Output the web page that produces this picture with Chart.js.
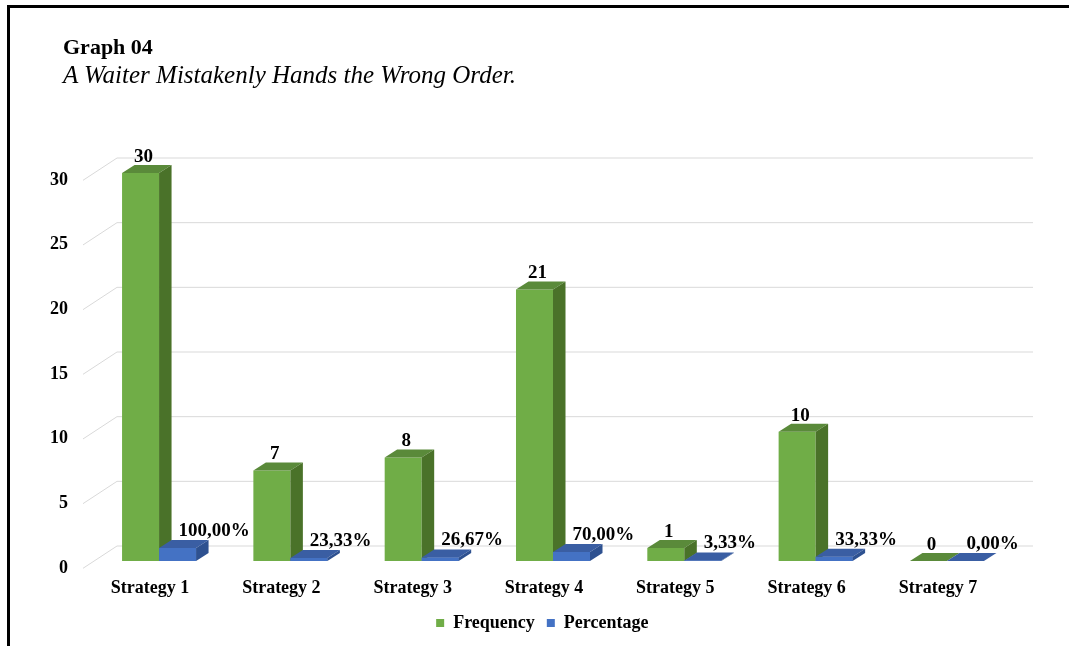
<!DOCTYPE html>
<html><head><meta charset="utf-8">
<script src="https://cdn.jsdelivr.net/npm/chart.js@4/dist/chart.umd.min.js"></script>
<style>
html,body{margin:0;padding:0;background:#fff;}
#wrap{position:relative;width:1069px;height:646px;overflow:hidden;background:#fff;}
#frameTop{position:absolute;left:7px;top:5px;width:1062px;height:3px;background:#000;}
#frameLeft{position:absolute;left:7px;top:5px;width:3px;height:641px;background:#000;}
.t{position:absolute;left:63px;white-space:nowrap;color:#000;font-family:"Liberation Serif","Times New Roman",serif;}
#title{top:36px;line-height:22px;font-weight:bold;font-size:22px;}
#subtitle{top:62px;line-height:25px;font-style:italic;font-size:25px;}
canvas{position:absolute;left:0;top:0;}
</style></head>
<body>
<div id="wrap">
  <canvas id="c" width="1069" height="646"></canvas>
  <div id="frameTop"></div><div id="frameLeft"></div>
  <div class="t" id="title">Graph 04</div>
  <div class="t" id="subtitle">A Waiter Mistakenly Hands the Wrong Order.</div>
</div>
<script>
const categories = ["Strategy 1","Strategy 2","Strategy 3","Strategy 4","Strategy 5","Strategy 6","Strategy 7"];
const frequency = [30, 7, 8, 21, 1, 10, 0];
const percentage = [100.00, 23.33, 26.67, 70.00, 3.33, 33.33, 0.00];
const yTicks = [0, 5, 10, 15, 20, 25, 30];

const FONT = '"Liberation Serif","Times New Roman",serif';
const DX = 12.5, DY = -8;
const faceColors = [
  {top:'#5A8A3A', side:'#4A7229'},
  {top:'#3A5EA3', side:'#2E5190'}
];
const TARGET = {top:173, bottom:561, left:93.4, right:1012.6};
const LEGEND_SHIFT = 36;

function fmtPct(v){ return v.toFixed(2).replace('.', ',') + '%'; }

function drawFaces(ctx, meta, col){
  meta.data.forEach(bar => {
    const p = bar.getProps(['x','y','base','width'], true);
    const l = p.x - p.width/2, r = p.x + p.width/2;
    const top = Math.min(p.y, p.base), bot = Math.max(p.y, p.base);
    ctx.fillStyle = col.top;
    ctx.beginPath();
    ctx.moveTo(l, top); ctx.lineTo(r, top); ctx.lineTo(r + DX, top + DY); ctx.lineTo(l + DX, top + DY);
    ctx.closePath(); ctx.fill();
    ctx.fillStyle = col.side;
    ctx.beginPath();
    ctx.moveTo(r, top); ctx.lineTo(r + DX, top + DY); ctx.lineTo(r + DX, bot + DY); ctx.lineTo(r, bot);
    ctx.closePath(); ctx.fill();
  });
}

const threeD = {
  id:'threeD',
  afterLayout(chart){
    if (chart.legend) { chart.legend.left += LEGEND_SHIFT; chart.legend.right += LEGEND_SHIFT; }
  },
  beforeDatasetsDraw(chart){
    const ctx = chart.ctx, ys = chart.scales.y, a = chart.chartArea;
    ctx.save();
    ctx.strokeStyle = '#D9D9D9'; ctx.lineWidth = 1;
    const x0 = a.left - 10.4, x1 = a.left + 23.6, x2 = a.right + 20.4;
    yTicks.forEach(v => {
      const y = ys.getPixelForValue(v);
      ctx.beginPath();
      ctx.moveTo(x0, y + 7.3);
      ctx.lineTo(x1, y - 15);
      ctx.lineTo(x2, y - 15);
      ctx.stroke();
    });
    ctx.restore();
  },
  afterDatasetsDraw(chart){
    const ctx = chart.ctx;
    const m0 = chart.getDatasetMeta(0), m1 = chart.getDatasetMeta(1);
    ctx.save();
    drawFaces(ctx, m0, faceColors[0]);
    m1.data.forEach(bar => bar.draw(ctx));
    drawFaces(ctx, m1, faceColors[1]);
    ctx.restore();

    ctx.save();
    ctx.fillStyle = '#000';
    ctx.font = 'bold 19px ' + FONT;
    ctx.textBaseline = 'middle';
    m0.data.forEach((bar, i) => {
      const p = bar.getProps(['x','y'], true);
      ctx.textAlign = 'center';
      ctx.fillText(String(frequency[i]), p.x + 3, p.y - 16);
    });
    m1.data.forEach((bar, i) => {
      const p = bar.getProps(['x','y'], true);
      ctx.textAlign = 'left';
      ctx.fillText(fmtPct(percentage[i]), p.x + 1, p.y - 17);
    });
    ctx.restore();
  }
};

const chart = new Chart(document.getElementById('c'), {
  type:'bar',
  data:{
    labels: categories,
    datasets:[
      {label:'Frequency', data: frequency, backgroundColor:'#70AD47',
       barPercentage:1, categoryPercentage:0.5636, borderWidth:0},
      {label:'Percentage', data: percentage.map(v => v/100), backgroundColor:'#4472C4',
       barPercentage:1, categoryPercentage:0.5636, borderWidth:0}
    ]
  },
  options:{
    responsive:false, animation:false, devicePixelRatio:1,
    layout:{padding:{top:TARGET.top, left:0, right:1069 - TARGET.right, bottom:0}},
    plugins:{
      legend:{
        position:'bottom',
        labels:{boxWidth:8, boxHeight:8, padding:12, color:'#000', font:{family:FONT, size:18, weight:'bold'}}
      },
      tooltip:{enabled:false},
      title:{display:false}
    },
    scales:{
      x:{
        grid:{display:false, drawTicks:false},
        border:{display:false},
        ticks:{color:'#000', font:{family:FONT, size:18, weight:'bold'}, padding:17, labelOffset:-9, maxRotation:0, autoSkip:false},
        afterFit(s){ s.height = 41; }
      },
      y:{
        min:0, max:30,
        afterBuildTicks(s){ s.ticks = yTicks.map(v => ({value:v})); },
        grid:{display:false, drawTicks:false},
        border:{display:false},
        ticks:{color:'#000', font:{family:FONT, size:18, weight:'bold'}, padding:25.4, labelOffset:7},
        afterFit(s){ s.width = TARGET.left; }
      }
    }
  },
  plugins:[threeD]
});

const diff = chart.chartArea.bottom - TARGET.bottom;
if (Math.abs(diff) > 0.5) {
  chart.options.layout.padding.bottom = Math.max(0, diff);
  chart.update('none');
}
</script>
</body></html>
